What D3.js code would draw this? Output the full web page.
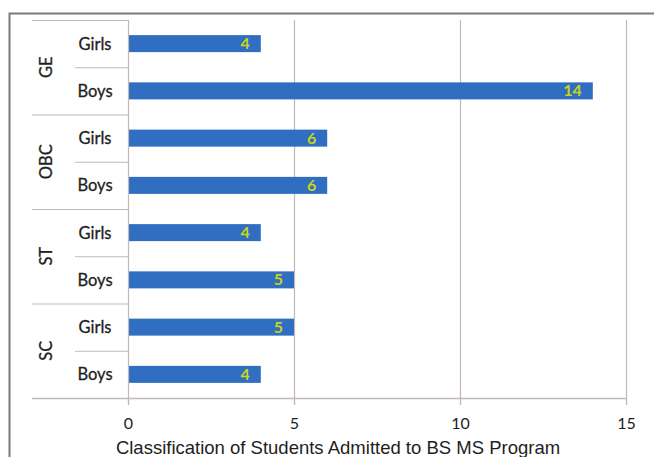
<!DOCTYPE html>
<html><head><meta charset="utf-8">
<script src="https://cdn.jsdelivr.net/npm/d3@7"></script>
<style>body{margin:0;background:#fff;}svg{display:block;}</style>
</head><body>
<svg id="c" width="654" height="457"></svg>
<script>
const groups = ["GE", "OBC", "ST", "SC"];
const subcats = ["Girls", "Boys"];
const values = [4, 14, 6, 6, 4, 5, 5, 4];
const xTicks = [0, 5, 10, 15];
const title = "Classification of Students Admitted to BS MS Program";

const svg = d3.select("#c");
const W = 654, H = 457;
const m = {left: 128, right: 28, top: 20, bottom: 59};
const plotW = W - m.left - m.right, plotH = H - m.top - m.bottom;
const lineCol = "#c4b8b4";
const txtFont = "Lato, 'Open Sans', sans-serif";

// outer border
svg.append("path").attr("d", `M9.5,${H} L9.5,13.5 L${W},13.5`).attr("fill","none").attr("stroke","#7a7a7a").attr("stroke-width",2);

const rows = [];
groups.forEach((g,gi)=>subcats.forEach((s,si)=>rows.push({g, s, key:g+"|"+s, v: values[gi*2+si]})));

const x = d3.scaleLinear().domain([0,15]).range([m.left, m.left+plotW]);
const y = d3.scaleBand().domain(rows.map(r=>r.key)).range([m.top, m.top+plotH]).paddingInner(0.64).paddingOuter(0.32);

// grid lines
svg.append("g").selectAll("line").data(xTicks.slice(1)).join("line")
  .attr("x1", d=>x(d)+0.5).attr("x2", d=>x(d)+0.5)
  .attr("y1", m.top).attr("y2", m.top+plotH+7)
  .attr("stroke", lineCol).attr("stroke-width",1.2);

// bars
svg.append("g").selectAll("rect").data(rows).join("rect")
  .attr("x", x(0)).attr("y", r=>y(r.key)).attr("width", r=>x(r.v)-x(0)).attr("height", y.bandwidth())
  .attr("fill", "#2f6ec1");

// value labels
svg.append("g").selectAll("text").data(rows).join("text")
  .attr("x", r=>x(r.v)-11).attr("y", r=>y(r.key)+y.bandwidth()/2-1)
  .attr("text-anchor","end").attr("dominant-baseline","central")
  .attr("font-family",txtFont).attr("font-weight","bold").attr("font-size",16)
  .attr("fill","#c9d41a").text(r=>r.v);

// axis
const xAxis = svg.append("g").attr("transform", `translate(0,${m.top+plotH})`)
  .call(d3.axisBottom(x).tickValues(xTicks).tickSize(7).tickSizeOuter(0).tickFormat(d3.format("d")));
xAxis.select(".domain").remove();
xAxis.selectAll(".tick line").attr("stroke", lineCol).attr("stroke-width",1.2);
xAxis.selectAll(".tick text").attr("dy", null).attr("y", 31).attr("font-family",txtFont).attr("font-size",16).attr("fill","#1e1e1e");
svg.append("line").attr("x1",32).attr("x2",x(15)).attr("y1",m.top+plotH+0.5).attr("y2",m.top+plotH+0.5).attr("stroke",lineCol).attr("stroke-width",1.5);

// category axis line
svg.append("line").attr("x1",m.left+0.5).attr("x2",m.left+0.5).attr("y1",m.top).attr("y2",m.top+plotH+7).attr("stroke",lineCol).attr("stroke-width",1.2);

// category separators
const groupH = plotH/groups.length;
svg.append("g").selectAll("line").data(d3.range(groups.length)).join("line")
  .attr("x1",32).attr("x2",m.left).attr("y1",i=>m.top+i*groupH+0.5).attr("y2",i=>m.top+i*groupH+0.5)
  .attr("stroke",lineCol).attr("stroke-width",1.2);
svg.append("g").selectAll("line").data(d3.range(groups.length)).join("line")
  .attr("x1",75).attr("x2",m.left).attr("y1",i=>m.top+i*groupH+groupH/2+0.5).attr("y2",i=>m.top+i*groupH+groupH/2+0.5)
  .attr("stroke",lineCol).attr("stroke-width",1.2);

// subcategory labels
svg.append("g").selectAll("text").data(rows).join("text")
  .attr("x", 95).attr("y", r=>y(r.key)+y.bandwidth()/2)
  .attr("text-anchor","middle").attr("dominant-baseline","central")
  .attr("font-family",txtFont).attr("font-size",16.5).attr("fill","#1e1e1e")
  .attr("stroke","#1e1e1e").attr("stroke-width",0.3).text(r=>r.s);

// group labels
svg.append("g").selectAll("text").data(groups).join("text")
  .attr("transform",(g,i)=>`translate(46,${m.top+i*groupH+groupH/2}) rotate(-90)`)
  .attr("text-anchor","middle").attr("dominant-baseline","central")
  .attr("font-family",txtFont).attr("font-size",16.5).attr("fill","#1e1e1e")
  .attr("stroke","#1e1e1e").attr("stroke-width",0.3).text(g=>g);

// title
svg.append("text").attr("x",338).attr("y",447).attr("text-anchor","middle").attr("dominant-baseline","central")
  .attr("font-family","'Liberation Sans', Arial, sans-serif").attr("font-size",18.5).attr("fill","#1e1e1e").text(title);
</script>
</body></html>
